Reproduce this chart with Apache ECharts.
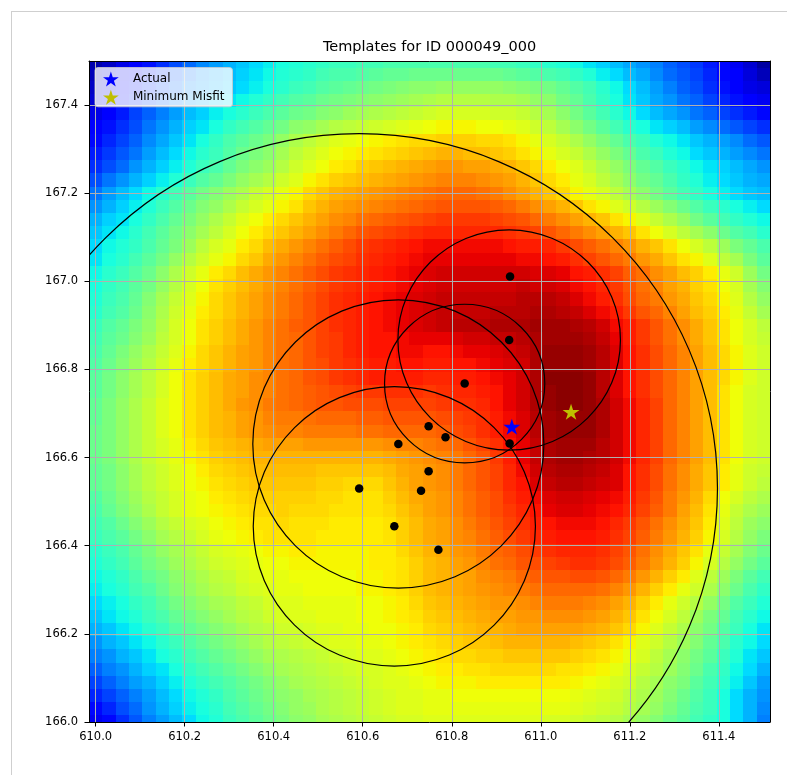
<!DOCTYPE html>
<html>
<head>
<meta charset="utf-8">
<title>Templates for ID 000049_000</title>
<script src="https://cdn.jsdelivr.net/npm/echarts@6/dist/echarts.min.js"></script>
<style>
  html, body { margin: 0; padding: 0; background: #ffffff; }
  #main { width: 787px; height: 775px; }
</style>
</head>
<body>
<div id="main"></div>
<script>
// ---- data -------------------------------------------------------------
const titleText = 'Templates for ID 000049_000';
const xTicks = [610.0, 610.2, 610.4, 610.6, 610.8, 611.0, 611.2, 611.4];
const yTicks = [166.0, 166.2, 166.4, 166.6, 166.8, 167.0, 167.2, 167.4];

// template grid: cell centres start at (610.00, 166.00), spacing 0.03 deg
const gridX0 = 610.0;
const gridY0 = 166.0;
const gridStep = 0.03;

// fit score per grid cell, in percent of the colour scale.
// First row is the top of the map (y = 167.50), last row is y = 166.00;
// each row runs west (x = 610.00) to east (x = 611.50).
const scoreRows = [
  [4,6,9,11,14,17,20,23,26,28,30,32,34,36,38,39,40,41,42,42,43,43,44,44,44,44,44,44,44,44,43,43,42,41,40,39,37,35,33,31,29,27,25,22,20,18,15,13,10,7,3],
  [5,7,10,12,15,18,21,24,27,29,31,33,35,37,39,40,41,43,44,44,45,46,47,47,48,48,48,48,48,48,48,47,46,45,44,43,41,39,36,34,31,29,26,23,21,19,16,13,11,8,5],
  [6,8,11,14,17,20,23,26,28,30,32,34,36,38,40,42,43,45,46,47,48,49,50,51,52,52,53,53,53,53,53,52,51,50,49,47,45,43,40,37,34,31,28,25,22,20,17,14,12,9,8],
  [7,10,13,16,19,22,25,28,30,33,35,37,39,41,43,45,46,48,49,50,51,52,53,54,55,56,57,57,57,57,56,56,55,53,52,49,47,44,41,38,35,32,29,27,24,22,19,16,14,12,10],
  [9,12,15,19,22,25,28,31,33,36,38,40,42,44,46,48,49,51,52,54,55,56,57,58,59,60,61,61,61,61,60,60,59,57,55,52,49,46,43,40,37,34,31,29,27,24,22,19,17,15,13],
  [11,14,17,20,24,27,30,33,35,38,41,43,45,47,49,52,53,55,57,58,59,60,61,62,63,64,65,65,65,64,64,63,62,60,58,55,52,49,46,43,40,38,35,33,31,28,26,23,21,19,17],
  [13,16,19,22,26,29,32,35,38,41,44,46,48,50,53,56,58,60,62,63,64,65,66,67,68,68,69,69,69,68,68,67,65,63,61,59,56,53,50,47,44,42,39,37,35,32,30,28,26,23,21],
  [15,18,21,24,28,31,34,37,40,42,45,48,50,52,55,58,60,62,64,65,66,67,68,69,70,71,72,72,71,71,70,69,67,65,63,61,59,56,53,50,47,44,42,39,37,34,32,30,28,26,24],
  [17,20,23,27,30,33,36,39,42,44,47,50,52,54,57,60,62,64,66,67,69,70,71,72,73,74,75,75,74,74,73,72,70,68,66,64,62,59,56,53,50,47,45,42,40,37,35,33,31,29,27],
  [20,24,27,30,33,36,39,42,45,47,50,53,55,57,60,62,65,67,69,70,71,72,73,74,75,76,77,77,77,76,75,74,72,70,68,66,63,61,58,55,52,49,47,44,41,39,36,34,32,30,29],
  [24,28,31,34,37,40,43,46,49,51,54,56,59,61,63,65,68,70,72,73,74,75,76,77,78,79,80,80,80,79,78,76,74,72,70,68,65,63,61,58,55,52,49,46,43,41,38,36,34,32,31],
  [27,30,33,36,39,42,45,48,51,53,56,59,61,63,65,67,70,72,74,75,76,77,78,79,80,81,82,82,82,82,81,80,78,76,74,72,70,67,65,62,60,57,54,51,48,45,42,40,38,36,34],
  [30,33,35,38,41,44,47,50,53,56,59,62,64,66,68,70,72,74,76,77,79,80,81,82,83,84,85,85,85,85,84,83,82,80,78,76,74,72,70,67,65,62,59,56,53,49,46,43,41,39,37],
  [32,35,37,40,43,46,49,52,55,58,61,64,66,68,70,72,74,76,78,80,82,83,84,85,86,87,87,87,87,87,87,86,85,84,82,80,78,76,74,72,70,67,64,61,58,55,52,48,45,43,40],
  [34,37,39,41,44,47,50,54,58,61,63,66,68,71,73,75,77,79,81,83,85,86,87,88,89,90,90,90,90,90,90,89,88,88,87,85,83,81,79,77,75,72,70,67,64,61,58,54,50,47,44],
  [35,38,40,43,46,49,53,57,60,63,65,68,70,73,75,77,79,81,83,84,86,87,88,89,90,91,91,91,91,91,91,91,90,90,89,88,86,84,82,80,78,75,73,70,67,65,62,58,55,50,46],
  [37,40,42,45,48,52,56,60,63,66,68,71,73,75,77,79,81,83,85,86,87,88,89,90,91,92,93,93,93,93,93,93,93,92,92,91,89,88,86,84,81,79,76,74,71,69,66,63,60,54,49],
  [38,41,43,46,49,53,57,61,64,67,69,71,73,75,77,79,81,83,85,86,87,88,89,90,91,92,93,93,93,93,93,93,94,93,93,92,90,89,87,85,82,79,77,74,72,69,67,64,61,55,51],
  [39,42,44,47,51,55,59,62,65,68,70,72,74,76,78,80,82,84,86,87,88,89,90,91,92,93,94,94,94,94,94,94,95,95,95,94,92,90,88,86,83,80,78,75,73,70,68,65,62,57,53],
  [40,43,45,48,52,56,60,63,66,68,70,72,74,76,78,80,82,84,86,87,88,89,90,91,92,93,94,94,94,94,95,95,95,96,96,95,94,92,90,88,85,82,80,77,74,71,69,66,63,59,55],
  [42,45,47,50,53,57,61,64,67,69,71,73,75,77,79,81,82,84,86,87,88,89,90,91,92,93,94,95,95,95,96,96,96,97,97,97,96,95,93,90,88,85,82,79,76,73,70,67,64,61,58],
  [43,46,48,51,54,58,61,64,67,69,71,73,75,77,79,80,82,84,85,87,88,89,89,90,91,91,91,92,93,93,94,94,95,96,97,97,97,96,94,91,88,85,82,79,76,73,70,67,64,61,59],
  [44,47,50,53,56,59,62,65,68,70,72,74,75,77,79,80,82,84,85,87,88,89,89,90,90,89,89,90,91,91,92,93,94,96,98,98,98,97,95,92,89,86,83,80,77,74,71,68,65,62,60],
  [45,48,51,54,57,60,63,66,68,70,72,74,75,77,79,80,82,83,85,86,87,88,88,89,89,88,88,89,89,90,91,92,93,96,98,98,98,97,95,92,89,86,83,80,77,74,71,68,65,62,60],
  [46,49,52,55,58,61,64,67,69,71,73,74,76,77,79,80,82,83,85,86,87,88,88,88,88,87,87,88,88,89,90,91,93,96,99,99,99,98,95,92,89,86,83,80,77,74,71,68,65,62,60],
  [46,49,52,55,58,61,64,67,69,71,73,74,76,77,79,80,81,82,83,84,85,85,86,86,86,85,86,87,87,88,89,91,93,96,98,99,99,98,95,92,89,86,83,80,77,74,71,67,64,61,60],
  [47,50,53,56,59,62,64,67,69,71,73,75,76,78,79,80,81,82,82,83,83,83,84,84,84,84,85,86,86,87,89,91,93,96,98,99,99,98,96,93,90,87,84,80,77,74,71,67,64,61,60],
  [47,50,53,56,59,62,64,67,69,71,72,74,75,77,78,78,79,80,80,80,81,81,82,82,82,82,83,84,85,86,88,90,92,95,97,98,98,98,96,93,90,87,84,80,77,74,71,67,64,61,60],
  [48,50,53,56,59,62,64,67,69,71,72,74,75,76,77,77,78,78,78,78,79,79,80,80,80,80,81,83,84,86,88,90,92,95,97,98,98,98,96,93,90,87,84,80,77,74,71,67,64,61,60],
  [48,50,53,56,59,61,63,66,68,70,71,72,73,74,74,74,75,75,75,75,75,75,76,77,77,78,79,80,82,84,86,89,91,94,96,97,97,97,95,93,90,87,84,80,77,74,71,67,64,61,60],
  [48,50,53,56,59,61,63,65,67,69,70,71,72,72,72,72,72,72,72,72,72,72,73,74,75,76,77,78,80,82,85,88,91,94,96,97,97,96,95,93,90,87,84,80,77,74,71,67,64,61,60],
  [47,49,52,55,58,60,62,64,66,68,69,70,71,71,71,71,71,70,70,70,70,70,71,73,74,75,76,78,80,82,84,87,90,93,95,96,96,95,94,92,89,86,83,79,76,73,70,66,63,60,59],
  [47,49,52,55,58,60,62,64,65,67,68,69,70,70,70,70,70,69,69,68,68,68,70,72,74,75,76,78,80,82,84,87,89,92,94,95,95,94,93,92,89,86,83,79,76,73,70,66,63,60,58],
  [45,48,51,54,57,59,61,63,64,66,67,68,69,69,69,69,69,68,68,67,67,67,69,71,73,74,75,77,79,81,83,86,88,90,92,93,93,92,91,90,88,85,82,78,75,72,68,64,61,58,56],
  [44,47,50,53,56,59,61,63,64,65,66,67,68,68,69,68,68,68,67,67,67,67,68,70,72,74,75,77,79,81,83,85,87,89,91,92,92,91,90,89,87,84,81,78,74,71,67,63,59,56,54],
  [43,45,48,51,54,57,59,61,62,64,65,66,67,67,68,67,67,67,66,66,66,66,67,69,71,73,74,76,78,80,82,84,86,88,89,90,90,90,89,87,85,82,79,76,73,70,66,62,58,54,52],
  [42,44,46,49,52,55,57,59,61,63,64,65,66,67,67,67,67,66,66,66,66,66,67,69,71,73,74,76,77,79,81,83,85,87,88,89,89,89,88,86,84,81,78,75,72,69,65,61,57,53,50],
  [40,42,44,47,50,53,55,57,59,61,62,63,64,65,65,66,66,65,65,65,65,66,66,68,70,72,73,75,76,78,80,81,83,85,86,87,87,87,86,84,82,79,76,73,70,67,63,59,55,51,48],
  [39,41,43,46,49,51,54,56,58,60,61,62,63,64,64,65,65,65,65,65,65,66,66,67,69,71,72,74,75,77,79,80,82,83,84,85,86,86,85,83,81,78,75,72,69,65,61,57,53,49,46],
  [37,39,41,44,47,49,52,54,56,58,59,61,62,63,63,64,64,64,64,64,65,65,66,67,69,71,72,73,74,76,77,78,80,81,82,82,83,83,82,80,78,75,72,69,66,62,58,54,50,46,43],
  [36,38,40,43,45,48,51,53,55,57,58,60,61,62,63,63,64,64,64,64,65,65,66,67,69,71,72,73,74,75,76,77,78,79,80,80,80,80,79,77,75,72,69,66,63,60,56,52,48,44,41],
  [34,36,38,41,43,46,49,51,53,55,56,58,59,61,62,62,63,63,63,63,64,64,65,66,68,70,71,72,73,74,75,75,76,77,78,78,78,77,76,74,72,69,66,63,60,57,53,49,45,42,39],
  [32,35,37,39,42,44,47,49,51,53,55,57,58,60,61,62,62,63,63,63,64,64,65,66,67,69,70,71,72,73,74,74,75,75,76,76,76,75,74,72,70,67,64,61,58,54,50,47,43,40,37],
  [30,32,35,37,40,42,45,47,49,51,53,55,57,58,60,60,61,62,62,63,63,64,64,65,66,68,69,70,71,72,72,73,74,74,74,74,74,73,72,70,68,65,62,59,56,52,49,45,42,38,35],
  [27,30,32,35,37,40,42,45,47,49,51,53,55,57,58,59,60,61,62,62,63,63,64,65,66,67,68,69,70,70,71,72,72,72,72,72,71,70,69,67,65,62,60,57,54,51,47,44,40,37,34],
  [25,27,30,32,35,38,40,43,45,47,49,51,53,55,56,57,58,59,60,61,62,62,63,64,65,66,67,68,68,69,69,70,70,70,70,70,69,68,67,65,63,61,58,55,52,49,46,42,39,35,32],
  [22,25,27,30,33,35,38,41,43,45,47,49,51,53,55,56,57,58,59,60,61,61,62,63,64,65,66,66,67,67,68,68,68,68,68,67,67,66,65,63,61,59,57,54,51,48,44,41,37,34,30],
  [19,22,25,28,30,33,36,39,41,43,45,47,49,51,53,55,56,57,58,59,60,61,62,62,63,64,65,65,65,66,66,66,66,66,66,66,65,64,63,61,60,57,55,52,50,46,43,40,36,32,28],
  [16,19,22,25,28,31,34,37,39,41,44,46,48,50,52,53,55,56,57,58,59,60,61,62,62,63,63,64,64,64,64,64,64,64,64,64,63,62,61,60,58,56,54,51,48,45,42,38,34,30,27],
  [13,16,20,23,27,30,33,36,38,40,43,45,47,49,51,53,54,56,57,58,59,60,61,62,62,63,63,63,63,63,63,63,63,63,63,63,62,61,60,59,57,55,53,50,47,44,42,38,34,30,26],
  [10,13,17,21,25,28,31,34,37,39,42,44,46,48,50,52,53,55,56,57,58,59,60,61,61,62,62,62,62,62,62,62,62,62,61,61,60,59,58,57,55,53,51,48,46,43,41,38,34,30,25]
];

// template locations (black dots)
const templateX = [610.931, 610.929, 610.829, 610.748, 610.786, 610.680, 610.930, 610.748, 610.592, 610.731, 610.671, 610.770];
const templateY = [167.011, 166.867, 166.768, 166.671, 166.646, 166.631, 166.632, 166.569, 166.530, 166.525, 166.444, 166.391];

// search radii drawn round some of the templates
const ringX = [610.592, 610.929, 610.829, 610.680, 610.671];
const ringY = [166.530, 166.867, 166.768, 166.631, 166.444];
const ringR = [0.805, 0.250, 0.180, 0.327, 0.317];

const actualLoc = [610.935, 166.670];
const minMisfitLoc = [611.068, 166.704];

// ---- styling helpers ---------------------------------------------------
const FONT = 'DejaVu Sans';
const STAR = 'path://M0,-1L0.2245,-0.309L0.951,-0.309L0.3633,0.118L0.588,0.809L0,0.382L-0.588,0.809L-0.3633,0.118L-0.951,-0.309L-0.2245,-0.309Z';

// 'jet' colour map
const JET_R = [[0, 0], [0.35, 0], [0.66, 1], [0.89, 1], [1, 0.5]];
const JET_G = [[0, 0], [0.125, 0], [0.375, 1], [0.64, 1], [0.91, 0], [1, 0]];
const JET_B = [[0, 0.5], [0.11, 1], [0.34, 1], [0.65, 0], [1, 0]];
function channel(stops, v) {
  for (let k = 1; k < stops.length; k++) {
    if (v <= stops[k][0]) {
      const a = stops[k - 1], b = stops[k];
      return a[1] + (b[1] - a[1]) * (v - a[0]) / (b[0] - a[0]);
    }
  }
  return stops[stops.length - 1][1];
}
function jet(v) {
  v = Math.max(0, Math.min(1, v));
  const r = Math.round(255 * channel(JET_R, v));
  const g = Math.round(255 * channel(JET_G, v));
  const b = Math.round(255 * channel(JET_B, v));
  return 'rgb(' + r + ',' + g + ',' + b + ')';
}

// ---- build series data -------------------------------------------------
const nRows = scoreRows.length;
const cells = [];
scoreRows.forEach((row, r) => {
  const j = nRows - 1 - r;
  row.forEach((val, i) => {
    cells.push([gridX0 + gridStep * i, gridY0 + gridStep * j, val]);
  });
});
const templates = templateX.map((x, k) => [x, templateY[k]]);
const rings = ringX.map((x, k) => [x, ringY[k], ringR[k]]);
const half = gridStep / 2;

const xMin = gridX0 - half;
const xMax = gridX0 + gridStep * 50 + half;

const chart = echarts.init(document.getElementById('main'), null, { renderer: 'canvas' });

const option = {
  animation: false,
  backgroundColor: '#ffffff',
  textStyle: { fontFamily: FONT },
  title: {
    text: titleText,
    left: 429.5,
    top: 40,
    textAlign: 'center',
    padding: 0,
    textStyle: { fontFamily: FONT, fontSize: 14.5, fontWeight: 'normal', color: '#000000' }
  },
  legend: {
    orient: 'vertical',
    left: 95,
    top: 67.5,
    data: [{ name: 'Actual', icon: STAR }, { name: 'Minimum Misfit', icon: STAR }],
    itemWidth: 16,
    itemHeight: 15,
    itemGap: 3.3,
    padding: [4, 8, 2, 8],
    backgroundColor: 'rgba(255,255,255,0.8)',
    borderColor: 'rgba(204,204,204,0.8)',
    borderWidth: 1,
    borderRadius: 3,
    selectedMode: false,
    z: 10,
    textStyle: { fontFamily: FONT, fontSize: 12, color: '#000000', padding: [0, 0, 0, 9] }
  },
  grid: { left: 89, top: 61, width: 681, height: 661, containLabel: false, outerBoundsMode: 'none' },
  xAxis: [{
    type: 'value', min: xMin, max: xMax, position: 'bottom', z: 2,
    axisLine: { show: true, onZero: false, lineStyle: { color: '#000000', width: 1 } },
    axisTick: { show: true, customValues: xTicks, length: 4.5, lineStyle: { color: '#000000', width: 1 } },
    axisLabel: { customValues: xTicks, formatter: v => v.toFixed(1), margin: 9, fontSize: 11.5, color: '#000000', fontFamily: FONT },
    splitLine: { show: true, lineStyle: { color: '#b0b0b0', width: 1 } }
  }, {
    type: 'value', min: xMin, max: xMax, position: 'top', z: 2,
    axisLine: { show: true, onZero: false, lineStyle: { color: '#000000', width: 1 } },
    axisTick: { show: false }, axisLabel: { show: false }, splitLine: { show: false }
  }],
  yAxis: [{
    type: 'value', min: 166.0, max: 167.5, position: 'left', z: 2,
    axisLine: { show: true, onZero: false, lineStyle: { color: '#000000', width: 1 } },
    axisTick: { show: true, customValues: yTicks, length: 4.5, lineStyle: { color: '#000000', width: 1 } },
    axisLabel: { customValues: yTicks, formatter: v => v.toFixed(1), margin: 11, fontSize: 11.5, color: '#000000', fontFamily: FONT },
    splitLine: { show: true, lineStyle: { color: '#b0b0b0', width: 1 } }
  }, {
    type: 'value', min: 166.0, max: 167.5, position: 'right', z: 2,
    axisLine: { show: true, onZero: false, lineStyle: { color: '#000000', width: 1 } },
    axisTick: { show: false }, axisLabel: { show: false }, splitLine: { show: false }
  }],
  series: [{
    type: 'custom',
    name: 'score map',
    xAxisIndex: 0, yAxisIndex: 0,
    z: 1,
    silent: true,
    clip: true,
    progressive: 0,
    dimensions: ['x', 'y', 'score'],
    encode: { x: 0, y: 1 },
    data: cells,
    renderItem: function (params, api) {
      const x = api.value(0), y = api.value(1), v = api.value(2);
      const p0 = api.coord([x - half, y + half]);
      const p1 = api.coord([x + half, y - half]);
      const x0 = Math.round(p0[0]), y0 = Math.round(p0[1]);
      const x1 = Math.round(p1[0]), y1 = Math.round(p1[1]);
      return {
        type: 'rect',
        shape: { x: x0, y: y0, width: x1 - x0, height: y1 - y0 },
        style: { fill: jet(v / 100) }
      };
    }
  }, {
    type: 'custom',
    name: 'radii',
    xAxisIndex: 0, yAxisIndex: 0,
    z: 3,
    silent: true,
    clip: true,
    encode: { x: 0, y: 1 },
    data: rings,
    renderItem: function (params, api) {
      const c = api.coord([api.value(0), api.value(1)]);
      const r = api.value(2);
      const s = api.size([r, r], [api.value(0), api.value(1)]);
      return {
        type: 'ellipse',
        shape: { cx: c[0], cy: c[1], rx: s[0], ry: s[1] },
        style: { fill: null, stroke: '#000000', lineWidth: 1.2 }
      };
    }
  }, {
    type: 'scatter',
    name: 'Templates',
    z: 4,
    symbol: 'circle',
    symbolSize: 8.5,
    itemStyle: { color: '#000000', opacity: 1 },
    data: templates
  }, {
    type: 'scatter',
    name: 'Actual',
    z: 5,
    symbol: STAR,
    symbolSize: [17, 16],
    itemStyle: { color: '#0000ff', opacity: 1 },
    data: [actualLoc]
  }, {
    type: 'scatter',
    name: 'Minimum Misfit',
    z: 5,
    symbol: STAR,
    symbolSize: [17, 16],
    itemStyle: { color: '#bfbf00', opacity: 1 },
    data: [minMisfitLoc]
  }],
  graphic: [
    { type: 'line', silent: true, shape: { x1: 11, y1: 11.5, x2: 787, y2: 11.5 }, style: { stroke: '#cfcfcf', lineWidth: 1 } },
    { type: 'line', silent: true, shape: { x1: 11.5, y1: 11, x2: 11.5, y2: 775 }, style: { stroke: '#cfcfcf', lineWidth: 1 } }
  ]
};

chart.setOption(option);
</script>
</body>
</html>
